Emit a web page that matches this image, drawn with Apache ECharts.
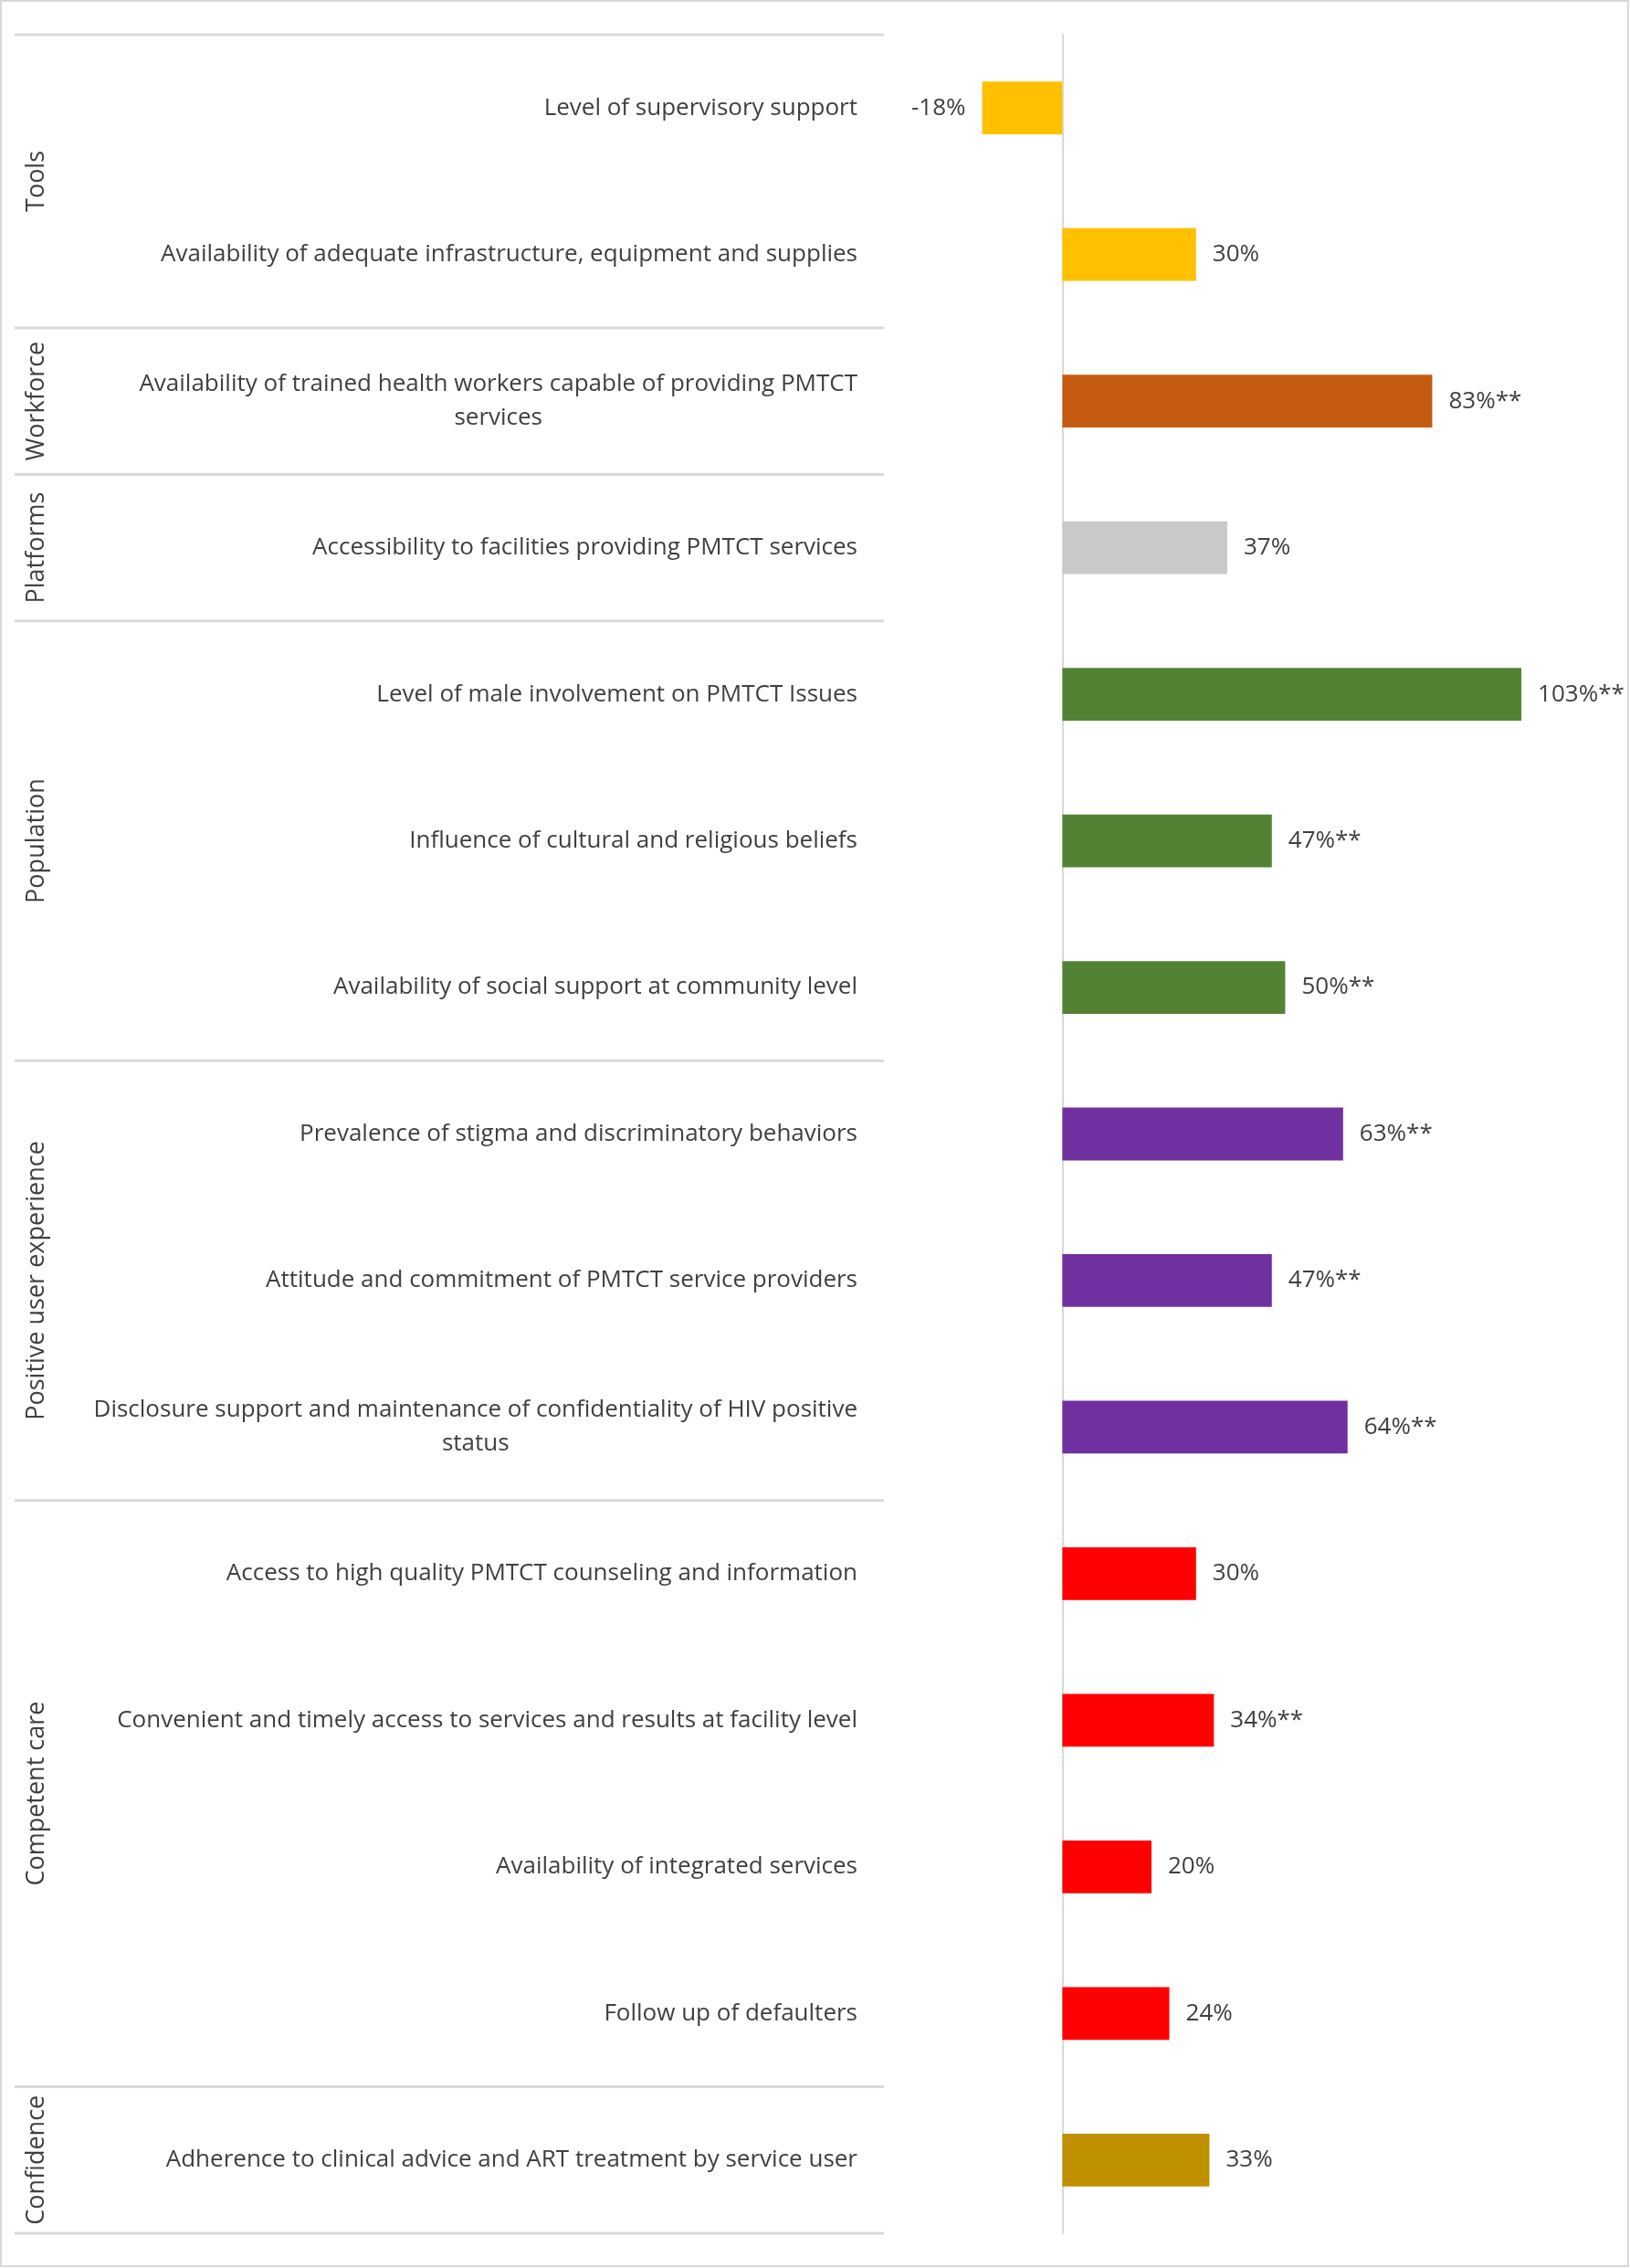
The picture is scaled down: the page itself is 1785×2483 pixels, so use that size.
<!DOCTYPE html>
<html>
<head>
<meta charset="utf-8">
<script src="https://cdn.jsdelivr.net/npm/echarts@6/dist/echarts.min.js"></script>
<style>
html,body{margin:0;padding:0;background:#fff;}
#chart{width:1785px;height:2483px;}
</style>
</head>
<body>
<div id="chart"></div>
<script>
const categories = [
  'Level of supervisory support',
  'Availability of adequate infrastructure, equipment and supplies',
  'Availability of trained health workers capable of providing PMTCT\nservices',
  'Accessibility to facilities providing PMTCT services',
  'Level of male involvement on PMTCT Issues',
  'Influence of cultural and religious beliefs',
  'Availability of social support at community level',
  'Prevalence of stigma and discriminatory behaviors',
  'Attitude and commitment of PMTCT service providers',
  'Disclosure support and maintenance of confidentiality of HIV positive\nstatus',
  'Access to high quality PMTCT counseling and information',
  'Convenient and timely access to services and results at facility level',
  'Availability of integrated services',
  'Follow up of defaulters',
  'Adherence to clinical advice and ART treatment by service user'
];
const values = [-18, 30, 83, 37, 103, 47, 50, 63, 47, 64, 30, 34, 20, 24, 33];
const significance = ['', '', '**', '', '**', '**', '**', '**', '**', '**', '', '**', '', '', ''];
const groups = ['Tools', 'Workforce', 'Platforms', 'Population', 'Positive user experience', 'Competent care', 'Confidence'];
const groupSizes = [2, 1, 1, 3, 3, 4, 1];
const groupColors = ['#FFC000', '#C55A11', '#C9C9C9', '#548235', '#7030A0', '#FF0000', '#BF9000'];

const FONT = 'Open Sans';
const TXT = '#404040';

const catGroup = [];
groupSizes.forEach((n, g) => { for (let i = 0; i < n; i++) catGroup.push(g); });

const chart = echarts.init(document.getElementById('chart'), null, {renderer: 'canvas'});

chart.setOption({
  backgroundColor: '#ffffff',
  animation: false,
  grid: {left: 1017, right: 36, top: 38, bottom: 38, containLabel: false, outerBoundsMode: 'none'},
  xAxis: {
    type: 'value', min: -30, max: 120, show: false,
    splitLine: {show: false}
  },
  yAxis: {
    type: 'category', inverse: true, data: categories,
    axisTick: {show: false},
    axisLine: {show: true, onZero: true, lineStyle: {color: '#d9d9d9', width: 2}},
    axisLabel: {
      margin: 78, fontSize: 26, color: TXT, fontFamily: FONT,
      formatter: v => v.split('\n').map(s => '{c|' + s + '}').join('\n'),
      rich: {c: {align: 'center', fontSize: 26, lineHeight: 37, color: TXT, fontFamily: FONT}}
    }
  },
  series: [{
    type: 'bar',
    barWidth: '36%',
    data: values.map((v, i) => ({
      value: v,
      itemStyle: {color: groupColors[catGroup[i]]},
      label: {position: v < 0 ? 'left' : 'right'}
    })),
    label: {
      show: true, distance: 18, fontSize: 26, color: TXT, fontFamily: FONT,
      formatter: p => p.value + '%' + significance[p.dataIndex]
    }
  }]
});

const c0 = chart.convertToPixel({yAxisIndex: 0}, 0);
const c1 = chart.convertToPixel({yAxisIndex: 0}, 1);
const band = c1 - c0;
const top0 = c0 - band / 2;
const graphics = [];
let start = 0;
graphics.push({type: 'line', shape: {x1: 16, y1: top0, x2: 968, y2: top0}, style: {stroke: '#d9d9d9', lineWidth: 3}});
groupSizes.forEach((n, g) => {
  const yA = top0 + start * band;
  const yB = top0 + (start + n) * band;
  graphics.push({type: 'line', shape: {x1: 16, y1: yB, x2: 968, y2: yB}, style: {stroke: '#d9d9d9', lineWidth: 3}});
  graphics.push({
    type: 'text', x: 40, y: (yA + yB) / 2, rotation: Math.PI / 2,
    style: {text: groups[g], fill: TXT, font: '27px "' + FONT + '"', align: 'center', verticalAlign: 'middle'}
  });
  start += n;
});
graphics.push({type: 'rect', shape: {x: 1, y: 1, width: 1782, height: 2480}, style: {fill: 'none', stroke: '#d9d9d9', lineWidth: 2}});
chart.setOption({graphic: graphics});
</script>
</body>
</html>
